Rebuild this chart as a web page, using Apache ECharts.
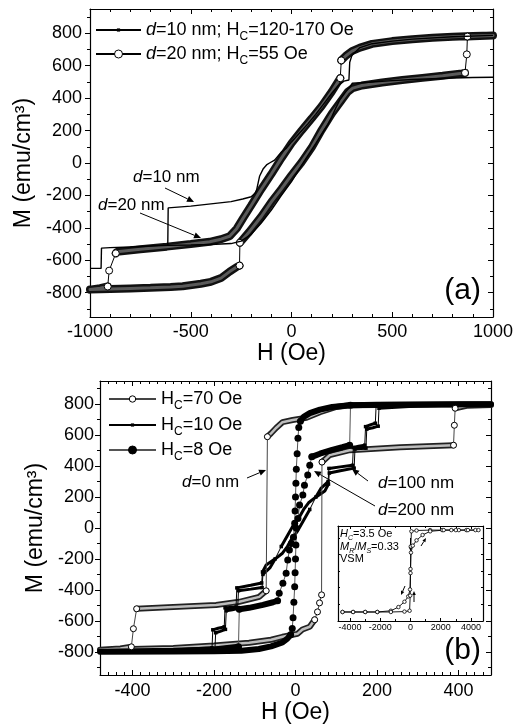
<!DOCTYPE html>
<html>
<head>
<meta charset="utf-8">
<script src="https://cdn.jsdelivr.net/npm/echarts@6/dist/echarts.min.js"></script>
<style>
html, body { margin: 0; padding: 0; background: #fff; }
#chart { width: 513px; height: 725px; }
</style>
</head>
<body>
<div id="chart"></div>
<script>
// ---- panel (a) ----
var aXLabels = [-1000, -500, 0, 500, 1000];
var mLabels = [-800, -600, -400, -200, 0, 200, 400, 600, 800];

// d=10 nm, thin line
var d10Down = [[1000,529],[900,527],[800,524],[700,520],[600,515],[500,508],[400,500],[302,492],[290,470],[270,440],[240,390],[220,340],[200,285],[180,235],[150,180],[120,120],[90,62],[60,5],[30,-55],[0,-115],[-50,-200],[-100,-290],[-150,-370],[-200,-440],[-250,-482],[-300,-497],[-400,-503],[-500,-506],[-614,-508],[-700,-512],[-800,-518],[-900,-522],[-943,-525],[-945,-650],[-1000,-650]];
var d10Up = [[-614,-505],[-612,-277],[-500,-266],[-400,-252],[-300,-238],[-242,-222],[-200,-208],[-180,-185],[-173,-166],[-165,-120],[-158,-80],[-140,-35],[-124,-12],[-109,0],[-84,18],[-50,68],[-25,92],[0,130],[40,185],[80,240],[120,300],[160,365],[200,430],[230,475],[260,505],[285,512],[289,621],[300,664],[340,712],[400,736],[500,752],[600,764],[800,779],[1000,787]];

// d=20 nm, open circles
var d20Down = [[1000,787],[900,784],[800,779],[700,772],[600,764],[500,752],[400,735],[340,712],[300,690],[270,662],[247,633],[242,523],[200,440],[150,352],[100,275],[50,200],[0,122],[-50,30],[-100,-68],[-150,-162],[-200,-262],[-240,-340],[-272,-405],[-307,-452],[-350,-470],[-406,-486],[-500,-500],[-619,-516],[-750,-532],[-866,-547],[-872,-557],[-905,-664],[-912,-762],[-950,-772],[-1000,-781]];
var d20Up = [[-1000,-781],[-900,-778],[-800,-774],[-700,-770],[-600,-765],[-540,-760],[-450,-745],[-400,-733],[-350,-710],[-307,-670],[-270,-640],[-258,-633],[-256,-492],[-210,-425],[-150,-330],[-100,-240],[-50,-160],[0,-75],[50,5],[100,95],[150,205],[200,305],[250,390],[280,440],[304,462],[350,478],[450,497],[550,512],[650,525],[750,538],[846,553],[861,556],[870,670],[873,780],[900,782],[1000,787]];

// ---- panel (b) ----
var bXLabels = [-400, -200, 0, 200, 400];

// H_C=70 Oe, d=0 nm
var hc70Down = [[480,800],[400,799],[300,797],[200,795],[133,793],[100,782],[60,748],[27,712],[-7,698],[-32,684],[-47,648],[-60,612],[-69,590],[-72,-406],[-89,-445],[-138,-477],[-195,-497],[-300,-510],[-390,-522],[-398,-651],[-403,-768],[-430,-778],[-480,-787]];
var hc70Up = [[-480,-787],[-400,-782],[-300,-775],[-200,-760],[-114,-742],[-60,-722],[-32,-703],[5,-684],[17,-656],[35,-638],[47,-593],[54,-542],[59,-484],[64,-432],[65,426],[84,471],[133,503],[257,522],[388,535],[390,664],[392,774],[420,790],[480,795]];

// H_C=10 Oe, d=100 nm
var hc10Down = [[480,800],[300,797],[205,794],[198,794],[196,677],[185,668],[172,655],[170,535],[155,528],[142,520],[140,405],[110,395],[82,385],[80,300],[63,258],[50,200],[35,120],[20,50],[5,-20],[-11,-77],[-20,-120],[-32,-163],[-48,-196],[-72,-239],[-81,-284],[-83,-355],[-110,-370],[-144,-387],[-146,-510],[-160,-513],[-173,-516],[-175,-639],[-190,-648],[-203,-658],[-205,-774],[-300,-788],[-480,-798]];
var hc10Up = [[-480,-800],[-300,-797],[-205,-794],[-198,-794],[-196,-677],[-185,-668],[-172,-655],[-170,-535],[-155,-528],[-142,-520],[-140,-405],[-110,-395],[-82,-385],[-80,-300],[-63,-258],[-50,-200],[-35,-120],[-20,-50],[-5,20],[11,77],[20,120],[32,163],[48,196],[72,239],[81,284],[83,355],[110,370],[144,387],[146,510],[160,513],[173,516],[175,639],[190,648],[203,658],[205,774],[300,788],[480,798]];

// H_C=8 Oe, d=200 nm
var hc8Down = [[480,800],[300,798],[200,796],[133,793],[90,782],[60,765],[35,742],[20,718],[12,690],[8,650],[6,580],[4,480],[2,380],[1,290],[0,200],[-1,110],[-2,30],[-5,-60],[-10,-100],[-15,-142],[-19,-206],[-23,-292],[-31,-357],[-40,-421],[-44,-470],[-55,-480],[-80,-497],[-114,-516],[-138,-525],[-140,-768],[-200,-785],[-300,-793],[-480,-800]];
var hc8Up = [[-480,-800],[-300,-798],[-200,-796],[-133,-793],[-90,-782],[-60,-765],[-32,-740],[-20,-715],[-12,-690],[-8,-650],[-6,-580],[-4,-480],[-2,-380],[-1,-290],[0,-200],[1,-110],[2,-2],[6,62],[10,148],[18,213],[22,277],[30,342],[35,406],[40,460],[60,480],[90,505],[115,522],[133,535],[135,793],[200,796],[300,798],[480,800]];

// ---- inset (VSM), M/Ms ----
var insetXLabels = [-4000, -2000, 0, 2000, 4000];
var vsmDown = [[4300,1],[3700,1],[3200,1],[2700,1],[2100,1],[1300,1],[400,0.99],[60,0.97],[20,0.6],[0,0.05],[-30,-0.45],[-150,-0.62],[-400,-0.75],[-800,-0.88],[-1300,-0.97],[-2200,-1],[-3000,-1],[-3800,-1],[-4500,-1]];
var vsmUp = [[-4500,-1],[-3800,-1],[-3000,-1],[-2200,-1],[-1300,-1],[-400,-0.99],[-60,-0.97],[-20,-0.6],[0,-0.05],[30,0.45],[150,0.62],[400,0.75],[800,0.88],[1300,0.97],[2200,1],[3000,1],[3800,1],[4500,1]];

var FONT = 'Liberation Sans, Arial, Helvetica, sans-serif';
var GAP = ['-', '-'];

var GA = {left: 90, top: 9, width: 403, height: 308, xMin: -1000, xMax: 1000, yMin: -950, yMax: 950};
var GB = {left: 100, top: 381, width: 391, height: 294, xMin: -480, xMax: 480, yMin: -950, yMax: 950};
var GC = {left: 338, top: 526, width: 145, height: 95, xMin: -4800, xMax: 4800, yMin: -1.22, yMax: 1.1};

function range(a, b, step, skip) {
  var out = [];
  for (var v = a; v <= b + 1e-9; v += step) {
    var r = Math.round(v * 1000) / 1000;
    if (!skip || skip.indexOf(r) < 0) out.push(r);
  }
  return out;
}

var xAxes = [], yAxes = [];
function axis(gi, mn, mx, pos, o) {
  return {
    type: 'value', gridIndex: gi, position: pos, min: mn, max: mx,
    splitLine: {show: false},
    axisLine: {show: !!o.line, onZero: false, lineStyle: {color: '#000', width: 1.2}},
    axisTick: {show: true, customValues: o.ticks, inside: !!o.inside, length: o.len, lineStyle: {color: '#000', width: 1}},
    axisLabel: o.labels ? {customValues: o.labels, margin: o.margin, fontSize: o.fs, color: '#000', fontFamily: FONT,
      formatter: function (v) { return String(v); }} : {show: false},
    name: o.name || '', nameLocation: 'middle', nameGap: o.nameGap || 0,
    nameTextStyle: {fontSize: o.nameSize || 20, color: '#000', fontFamily: FONT},
    silent: true
  };
}
function frame(gi, g, o) {
  var ix = [xAxes.length, yAxes.length];
  xAxes.push(axis(gi, g.xMin, g.xMax, 'bottom', {line: true, ticks: o.xMajor, len: o.maj, inside: true, labels: o.xLabels, fs: o.fs, margin: o.xMargin, name: o.xName, nameGap: o.xNameGap, nameSize: o.nameSize}));
  xAxes.push(axis(gi, g.xMin, g.xMax, 'bottom', {ticks: o.xMinor, len: o.min, inside: true}));
  xAxes.push(axis(gi, g.xMin, g.xMax, 'top', {line: true, ticks: o.xMajor, len: o.maj, inside: true}));
  xAxes.push(axis(gi, g.xMin, g.xMax, 'top', {ticks: o.xMinor, len: o.min, inside: true}));
  yAxes.push(axis(gi, g.yMin, g.yMax, 'left', {line: true, ticks: o.yMajor, len: o.maj, inside: o.leftIn, labels: o.yLabels, fs: o.fs, margin: o.yMargin, name: o.yName, nameGap: o.yNameGap, nameSize: o.nameSize}));
  yAxes.push(axis(gi, g.yMin, g.yMax, 'left', {ticks: o.yMinor, len: o.min, inside: o.leftIn}));
  yAxes.push(axis(gi, g.yMin, g.yMax, 'right', {line: true, ticks: o.yMajor, len: o.maj, inside: true}));
  yAxes.push(axis(gi, g.yMin, g.yMax, 'right', {ticks: o.yMinor, len: o.min, inside: true}));
  return ix;
}

var ia = frame(0, GA, {
  xMajor: aXLabels, xMinor: range(-900, 900, 100, aXLabels), xLabels: aXLabels,
  yMajor: mLabels, yMinor: range(-900, 900, 200), yLabels: mLabels,
  maj: 5, min: 3, fs: 18, xMargin: 6, yMargin: 8, leftIn: false,
  xName: 'H (Oe)', xNameGap: 24, yName: 'M (emu/cm\u00b3)', yNameGap: 52, nameSize: 23
});
var ib = frame(1, GB, {
  xMajor: bXLabels, xMinor: range(-460, 460, 20, bXLabels), xLabels: bXLabels,
  yMajor: mLabels, yMinor: range(-900, 900, 200), yLabels: mLabels,
  maj: 5, min: 3, fs: 18, xMargin: 7, yMargin: 6, leftIn: false,
  xName: 'H (Oe)', xNameGap: 25, yName: 'M (emu/cm\u00b3)', yNameGap: 50, nameSize: 23
});
var ic = frame(2, GC, {
  xMajor: insetXLabels, xMinor: range(-3000, 3000, 2000), xLabels: insetXLabels,
  yMajor: [], yMinor: range(-0.8, 0.8, 0.4), yLabels: null,
  maj: 3, min: 2, fs: 9, xMargin: 2, leftIn: true
});

// split a path into dense (band) pieces and steep jumps drawn as thin line with markers
function splitPath(pts, g, band, sparse) {
  var sx = g.width / (g.xMax - g.xMin), sy = g.height / (g.yMax - g.yMin);
  var lastB = null, lastS = null;
  for (var i = 0; i + 1 < pts.length; i++) {
    var p = pts[i], q = pts[i + 1];
    var steep = Math.abs(q[1] - p[1]) * sy > 2 * Math.abs(q[0] - p[0]) * sx;
    if (steep) {
      if (lastS !== p) { if (sparse.length) sparse.push(GAP); sparse.push(p); }
      sparse.push(q); lastS = q;
    } else {
      if (lastB !== p) { if (band.length) band.push(GAP); band.push(p); }
      band.push(q); lastB = q;
    }
  }
}

var series = [];
function loop(name, branches, g, ix, st) {
  var band = [], sparse = [];
  branches.forEach(function (b) { splitPath(b, g, band, sparse); });
  st.band.forEach(function (ls) {
    series.push({type: 'line', xAxisIndex: ix[0], yAxisIndex: ix[1], data: band, symbol: 'none',
      lineStyle: ls, silent: true, z: 2});
  });
  series.push({name: name, type: 'line', xAxisIndex: ix[0], yAxisIndex: ix[1], data: sparse,
    symbol: st.symbol, symbolSize: st.size, showSymbol: true, itemStyle: st.item,
    lineStyle: st.line, silent: true, z: 3});
}

// panel (a)
loop('d20', [d20Down, d20Up], GA, ia, {
  band: [{color: '#111', width: 8, cap: 'round'}, {color: '#5a5a5a', width: 3, cap: 'round'}],
  symbol: 'circle', size: 7, item: {color: '#fff', borderColor: '#000', borderWidth: 1},
  line: {color: '#000', width: 1}
});
series.push({name: 'd10', type: 'line', xAxisIndex: ia[0], yAxisIndex: ia[1],
  data: d10Down.concat([GAP], d10Up), symbol: 'rect', showSymbol: false,
  itemStyle: {color: '#000'}, lineStyle: {color: '#000', width: 1.4}, z: 5, silent: true});

// panel (b)
loop('hc70', [hc70Down, hc70Up], GB, ib, {
  band: [{color: '#222', width: 6, cap: 'round'}, {color: '#bdbdbd', width: 2.5, cap: 'round'}],
  symbol: 'circle', size: 6, item: {color: '#fff', borderColor: '#000', borderWidth: 1},
  line: {color: '#444', width: 1}
});
loop('hc8', [hc8Down, hc8Up], GB, ib, {
  band: [{color: '#000', width: 6, cap: 'round'}],
  symbol: 'circle', size: 7, item: {color: '#000', borderColor: '#000', borderWidth: 0},
  line: {color: '#555', width: 1}
});
loop('hc10', [hc10Down, hc10Up], GB, ib, {
  band: [{color: '#000', width: 3}],
  symbol: 'rect', size: 3.5, item: {color: '#000'},
  line: {color: '#000', width: 1}
});

// inset
[vsmDown, vsmUp].forEach(function (b) {
  series.push({type: 'line', xAxisIndex: ic[0], yAxisIndex: ic[1], data: b,
    symbol: 'circle', symbolSize: 3.5, showSymbol: true,
    itemStyle: {color: '#fff', borderColor: '#000', borderWidth: 0.8},
    lineStyle: {color: '#000', width: 0.9}, silent: true});
});

// legends
var LABELS = {
  d10: '{i|d}{n|=10 nm; H}{s|C}{n|=120-170 Oe}',
  d20: '{i|d}{n|=20 nm; H}{s|C}{n|=55 Oe}',
  hc70: '{n|H}{s|C}{n|=70 Oe}',
  hc10: '{n|H}{s|C}{n|=10 Oe}',
  hc8: '{n|H}{s|C}{n|=8 Oe}'
};
function rich(size) {
  var lh = Math.round(size * 1.25), sub = Math.round(size * 0.65), pad = Math.round(size * 0.8);
  return {
    n: {fontSize: size, fontFamily: FONT, color: '#000', lineHeight: lh},
    i: {fontSize: size, fontFamily: FONT, color: '#000', fontStyle: 'italic', lineHeight: lh},
    s: {fontSize: sub, fontFamily: FONT, color: '#000', lineHeight: lh - pad, padding: [pad, 0, 0, 0]},
    si: {fontSize: sub, fontFamily: FONT, color: '#000', fontStyle: 'italic', lineHeight: lh - pad, padding: [pad, 0, 0, 0]}
  };
}
function leg(name, left, top, w, h) {
  return {
    data: [name], left: left, top: top, itemWidth: w, itemHeight: h, selectedMode: false,
    formatter: function (n) { return LABELS[n]; },
    textStyle: {fontSize: 18, fontFamily: FONT, color: '#000', rich: rich(18)},
    itemStyle: {borderWidth: 1}
  };
}

// annotations
var R17 = rich(17), R11 = rich(11);
function txt(x, y, s, r, size, align) {
  return {type: 'text', x: x, y: y, silent: true,
    style: {text: s, rich: r, fontSize: size, fontFamily: FONT, fill: '#000', align: align || 'left', verticalAlign: 'middle'}};
}
function arrow(x1, y1, x2, y2, h) {
  var a = Math.atan2(y2 - y1, x2 - x1), w = h * 0.45;
  var bx = x2 - h * Math.cos(a), by = y2 - h * Math.sin(a);
  return [
    {type: 'line', silent: true, shape: {x1: x1, y1: y1, x2: bx, y2: by}, style: {stroke: '#000', lineWidth: 1}},
    {type: 'polygon', silent: true, shape: {points: [[x2, y2], [bx - w * Math.sin(a), by + w * Math.cos(a)], [bx + w * Math.sin(a), by - w * Math.cos(a)]]}, style: {fill: '#000'}}
  ];
}
var gfx = [].concat(
  txt(133, 177, '{i|d}{n|=10 nm}', R17, 17),
  arrow(165, 188, 194, 202, 7),
  txt(98, 205, '{i|d}{n|=20 nm}', R17, 17),
  arrow(140, 213, 201, 238, 7),
  {type: 'text', x: 481, y: 291, silent: true, style: {text: '(a)', fontSize: 30, fontFamily: FONT, fill: '#000', align: 'right', verticalAlign: 'middle'}},
  txt(182, 482, '{i|d}{n|=0 nm}', R17, 17),
  arrow(247, 478, 266, 470, 7),
  txt(378, 483, '{i|d}{n|=100 nm}', R17, 17),
  arrow(368, 481, 352, 469, 7),
  txt(378, 510, '{i|d}{n|=200 nm}', R17, 17),
  arrow(375, 506, 314, 471, 7),
  {type: 'text', x: 481, y: 651, silent: true, style: {text: '(b)', fontSize: 30, fontFamily: FONT, fill: '#000', align: 'right', verticalAlign: 'middle'}},
  txt(340, 534, '{i|H}{si|C}{n|=3.5 Oe}', R11, 11),
  txt(340, 547, '{i|M}{si|R}{n|/}{i|M}{si|S}{n|=0.33}', R11, 11),
  txt(340, 559, '{n|VSM}', R11, 11),
  arrow(410.5, 538, 410.5, 551, 4),
  arrow(421, 546, 426, 538, 4),
  arrow(405, 586, 401, 595, 4),
  arrow(414, 602, 414, 591, 4)
);

var chart = echarts.init(document.getElementById('chart'), null, {renderer: 'canvas'});
chart.setOption({
  animation: false,
  backgroundColor: '#fff',
  textStyle: {fontFamily: FONT},
  grid: [GA, GB, GC].map(function (g) {
    return {left: g.left, top: g.top, width: g.width, height: g.height, containLabel: false, outerBoundsMode: 'none'};
  }),
  xAxis: xAxes,
  yAxis: yAxes,
  legend: [
    leg('d10', 90, 12, 45, 4),
    leg('d20', 90, 36, 45, 10),
    leg('hc70', 103, 381, 47, 8),
    leg('hc10', 103, 407, 47, 4),
    leg('hc8', 103, 432, 47, 10)
  ],
  series: series,
  graphic: {elements: gfx}
});
</script>
</body>
</html>
